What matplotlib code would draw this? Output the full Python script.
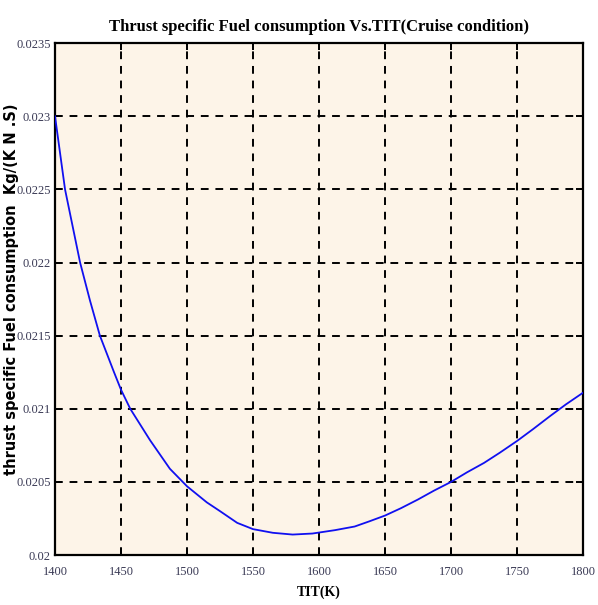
import matplotlib
matplotlib.use("Agg")
import matplotlib.pyplot as plt

# Data
tit = [1400, 1403.8, 1407.6, 1419, 1426.5, 1434, 1444.7, 1450, 1457, 1472,
       1487, 1500, 1515, 1525, 1538, 1550, 1565, 1580, 1595, 1612, 1627,
       1638, 1650, 1662, 1675, 1687, 1700, 1712, 1725, 1737, 1750, 1762,
       1775, 1787, 1800]
tsfc = [0.02300, 0.02275, 0.02250, 0.02200, 0.02174, 0.02150, 0.02125,
        0.02113, 0.02100, 0.020785, 0.02059, 0.02047, 0.02036, 0.02030,
        0.02022, 0.020177, 0.020152, 0.020140, 0.020147, 0.020170,
        0.020195, 0.02023, 0.02027, 0.02032, 0.02038, 0.02044, 0.02050,
        0.020565, 0.02063, 0.02070, 0.02078, 0.02086, 0.02095, 0.02103,
        0.02111]
xticks = [1400, 1450, 1500, 1550, 1600, 1650, 1700, 1750, 1800]
yticks = [0.02, 0.0205, 0.021, 0.0215, 0.022, 0.0225, 0.023, 0.0235]
ytick_labels = ["0.02", "0.0205", "0.021", "0.0215", "0.022", "0.0225", "0.023", "0.0235"]

title = "Thrust specific Fuel consumption Vs.TIT(Cruise condition)"
xlabel = "TIT(K)"
ylabel = "thrust specific Fuel consumption  Kg/(K N .S)"

fig = plt.figure(figsize=(5.98, 6.05), dpi=100)
fig.patch.set_facecolor("white")
ax = fig.add_axes([0.092, 0.0826, 0.883, 0.846])
ax.set_facecolor("#FDF4E8")

ax.plot(tit, tsfc, color="#1010F0", linewidth=1.3, zorder=3)

ax.set_xlim(1400, 1800)
ax.set_ylim(0.02, 0.0235)
ax.set_xticks(xticks)
ax.set_xticklabels([str(v) for v in xticks])
ax.set_yticks(yticks)
ax.set_yticklabels(ytick_labels)

ax.grid(True, color="black", linestyle=(0, (4, 3.5)), linewidth=1.4, zorder=1)
ax.set_axisbelow(True)

for s in ax.spines.values():
    s.set_linewidth(1.6)
    s.set_color("black")

ax.tick_params(direction="in", length=5, width=1.4, top=True, right=True,
               labelsize=9, labelcolor="#3a3a55")
ax.tick_params(axis="x", pad=8)
ax.tick_params(axis="y", pad=3)
for lbl in ax.get_xticklabels() + ax.get_yticklabels():
    lbl.set_family("Liberation Serif")

ax.set_title(title, fontsize=12, fontweight="bold", family="Liberation Serif", pad=9)
ax.set_xlabel(xlabel, fontsize=10, fontweight="bold", family="Liberation Serif", labelpad=5)
ax.set_ylabel(ylabel, fontsize=10.5, fontweight="bold", family="DejaVu Sans")
ax.yaxis.set_label_coords(-0.068, 0.52)

fig.savefig("out.png", dpi=100)
